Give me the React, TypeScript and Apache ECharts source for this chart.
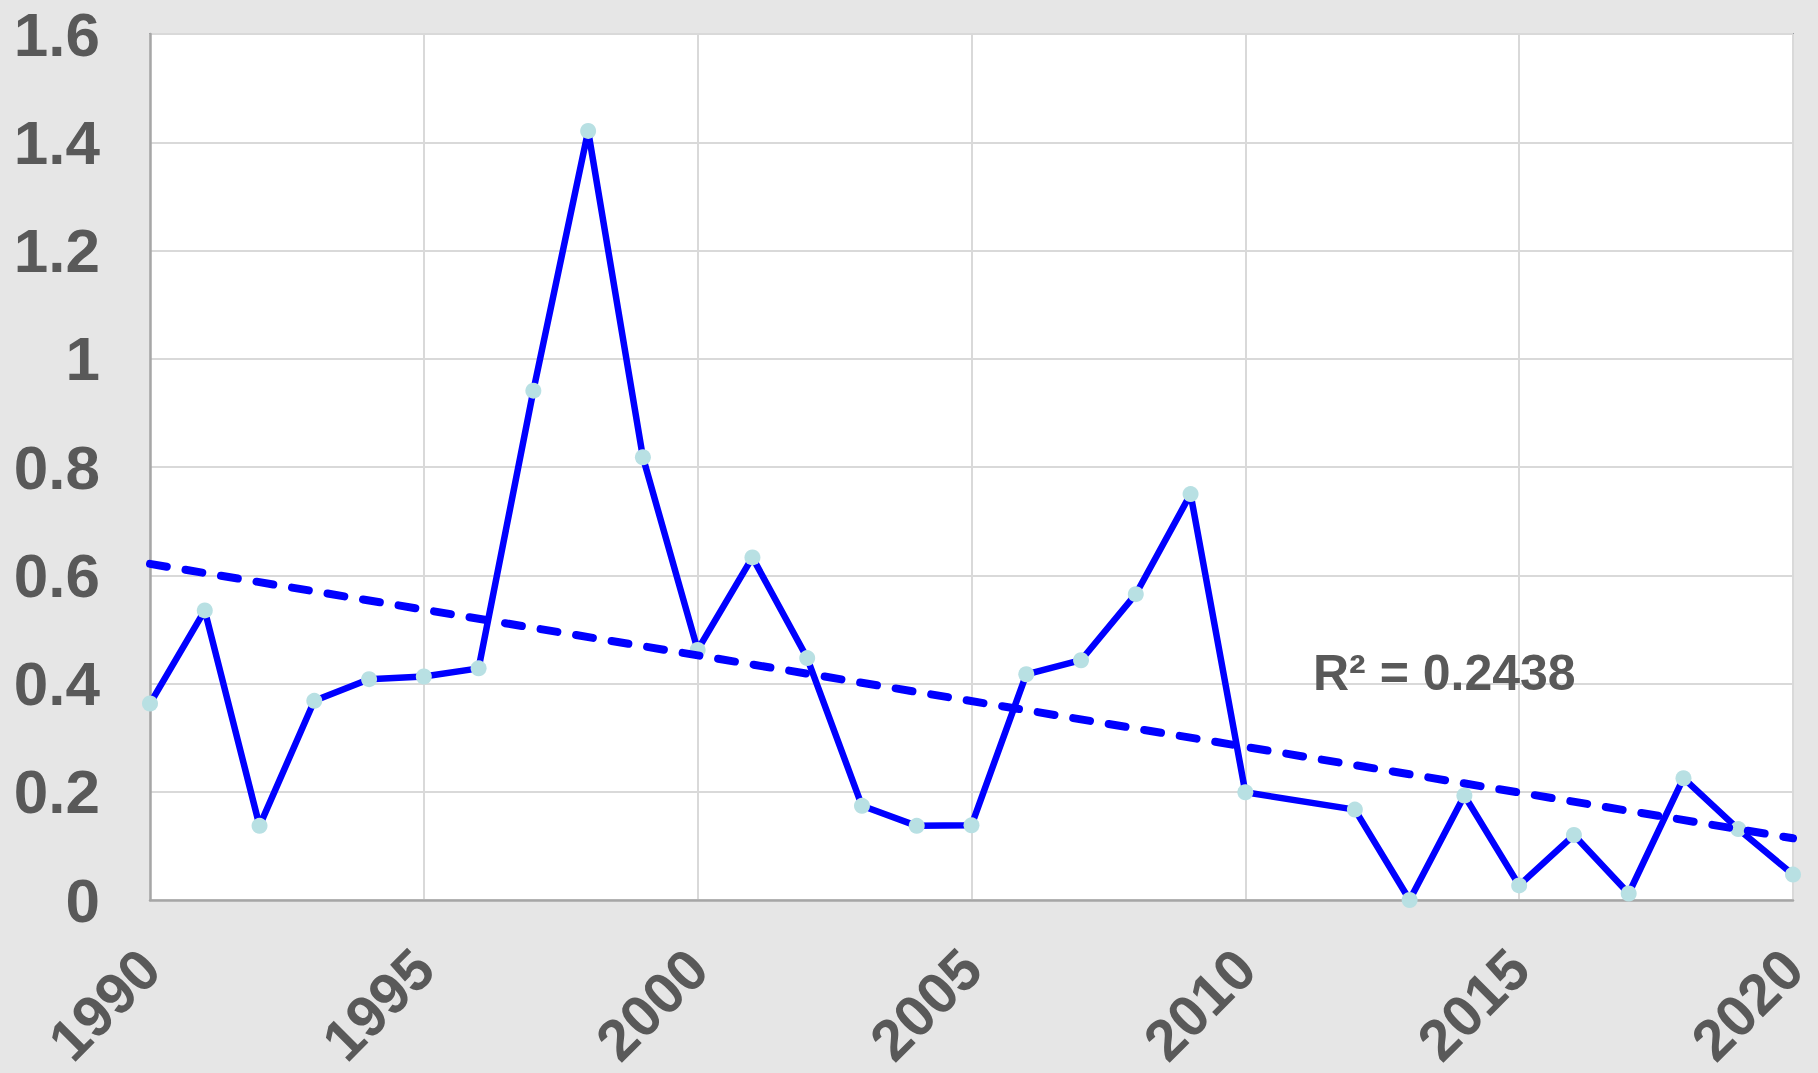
import React, { useEffect, useRef } from "react";
import * as echarts from "echarts";

const years = [
  1990, 1991, 1992, 1993, 1994, 1995, 1996, 1997, 1998, 1999, 2000, 2001, 2002, 2003, 2004,
  2005, 2006, 2007, 2008, 2009, 2010, 2012, 2013, 2014, 2015, 2016, 2017, 2018, 2019, 2020,
];
const values = [
  0.363, 0.535, 0.137, 0.368, 0.408, 0.413, 0.428, 0.941, 1.421, 0.818, 0.462, 0.633, 0.447,
  0.174, 0.137, 0.138, 0.417, 0.443, 0.565, 0.75, 0.199, 0.167, 0.0, 0.193, 0.027, 0.12, 0.012,
  0.225, 0.131, 0.047,
];
const trendYears = [1990, 2020];
const trendValues = [0.621, 0.114];
const rSquaredLabel = "R² = 0.2438";

const FONT = "'Liberation Sans', Arial, sans-serif";
const GREY_TEXT = "#595959";

export default function App() {
  const ref = useRef<HTMLDivElement>(null);

  useEffect(() => {
    if (!ref.current) return;
    const chart = echarts.init(ref.current, null, { renderer: "svg" });
    const pts = years.map((y, i) => [y, values[i]]);
    const trend = trendYears.map((y, i) => [y, trendValues[i]]);

    chart.setOption({
      animation: false,
      backgroundColor: "#e6e6e6",
      grid: {
        left: 150,
        top: 34,
        right: 25,
        bottom: 173,
        containLabel: false,
        outerBoundsMode: "none",
        show: true,
        backgroundColor: "#ffffff",
        borderColor: "#5f636b",
        borderWidth: 1.5,
      },
      xAxis: {
        type: "value",
        min: 1990,
        max: 2020,
        interval: 5,
        axisLine: { show: true, onZero: false, lineStyle: { color: "#a6a6a6", width: 2.5 } },
        axisTick: { show: false },
        splitLine: { show: true, lineStyle: { color: "#d9d9d9", width: 2 } },
        axisLabel: {
          rotate: 45,
          margin: 59,
          fontSize: 58,
          fontWeight: "bold",
          fontFamily: FONT,
          color: GREY_TEXT,
          hideOverlap: false,
          formatter: (v: number) => String(v),
        },
      },
      yAxis: {
        type: "value",
        min: 0,
        max: 1.6,
        interval: 0.2,
        axisLine: { show: true, lineStyle: { color: "#a6a6a6", width: 2.5 } },
        axisTick: { show: false },
        splitLine: { show: true, lineStyle: { color: "#d9d9d9", width: 2 } },
        axisLabel: {
          margin: 50,
          fontSize: 62,
          fontWeight: "bold",
          fontFamily: FONT,
          color: GREY_TEXT,
          formatter: (v: number) => String(Math.round(v * 10) / 10),
        },
      },
      series: [
        {
          type: "line",
          data: pts,
          symbol: "circle",
          symbolSize: 16,
          showAllSymbol: true,
          clip: false,
          lineStyle: { color: "#0000ff", width: 6.5 },
          itemStyle: { color: "#b8e0e3", borderWidth: 0 },
          z: 2,
        },
        {
          type: "line",
          data: trend,
          showSymbol: false,
          clip: false,
          lineStyle: { color: "#0000ff", width: 8, type: [17, 19], cap: "round" },
          z: 3,
        },
      ],
      graphic: [
        {
          type: "text",
          left: 1313,
          top: 648,
          style: {
            text: rSquaredLabel,
            fontSize: 50,
            fontWeight: "bold",
            fontFamily: FONT,
            fill: GREY_TEXT,
          },
          z: 10,
        },
      ],
    });

    return () => chart.dispose();
  }, []);

  return (
    <div
      ref={ref}
      style={{ position: "fixed", left: 0, top: 0, width: 1818, height: 1073 }}
    />
  );
}
